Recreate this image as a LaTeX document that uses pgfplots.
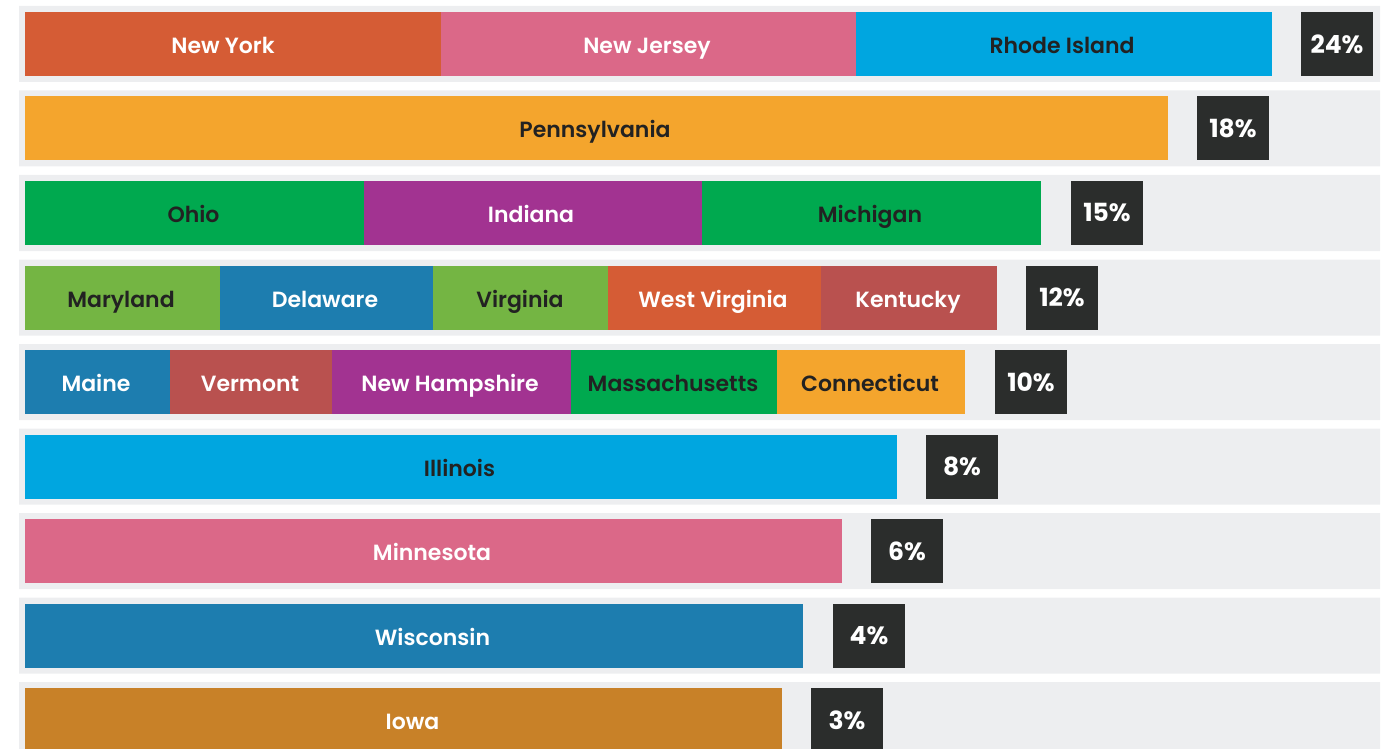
\documentclass[border=0pt]{standalone}
\usepackage{pgfplots}
\pgfplotsset{compat=1.18}
\usepackage{fontspec}
\setmainfont{Poppins}
\newfontfamily\semi{Poppins SemiBold}
\newfontfamily\boldf{Poppins Bold}
\definecolor{band}{HTML}{EDEEF0}
\definecolor{box}{HTML}{2B2D2C}
\definecolor{dtext}{HTML}{222222}
\definecolor{cOrange}{HTML}{D55C35}
\definecolor{cPink}{HTML}{DB6888}
\definecolor{cCyan}{HTML}{00A6E0}
\definecolor{cGold}{HTML}{F4A52D}
\definecolor{cGreen}{HTML}{00A94F}
\definecolor{cPurple}{HTML}{A23391}
\definecolor{cLime}{HTML}{74B543}
\definecolor{cBlue}{HTML}{1D7DAF}
\definecolor{cBrick}{HTML}{B9514F}
\definecolor{cOchre}{HTML}{C88128}
\pgfplotsset{
  seg/.style={xbar, bar shift=0pt, bar width=0.7574, draw=none},
  bandbar/.style={xbar, bar shift=0pt, bar width=0.8994, draw=none, fill=band},
}
\begin{document}
\begin{tikzpicture}
\begin{axis}[
  scale only axis, width=696pt, height=374.5pt,
  xmin=-25, xmax=1367, ymin=0.4793, ymax=9.3432, y dir=reverse,
  axis line style={draw=none}, xtick=\empty, ytick=\empty,
  clip=true,
]
% grey bands
\addplot[bandbar] coordinates {(1355,1) (1355,2) (1355,3) (1355,4) (1355,5) (1355,6) (1355,7) (1355,8) (1355,9)};
\addplot[bandbar] coordinates {(-6,1) (-6,2) (-6,3) (-6,4) (-6,5) (-6,6) (-6,7) (-6,8) (-6,9)};
% row 1
\addplot[seg, fill=cCyan] coordinates {(1247,1)};
\addplot[seg, fill=cPink] coordinates {(831,1)};
\addplot[seg, fill=cOrange] coordinates {(416,1)};
% row 2
\addplot[seg, fill=cGold] coordinates {(1143,2)};
% row 3
\addplot[seg, fill=cGreen] coordinates {(1016,3)};
\addplot[seg, fill=cPurple] coordinates {(677,3)};
\addplot[seg, fill=cGreen] coordinates {(339,3)};
% row 4
\addplot[seg, fill=cBrick] coordinates {(972,4)};
\addplot[seg, fill=cOrange] coordinates {(796,4)};
\addplot[seg, fill=cLime] coordinates {(583,4)};
\addplot[seg, fill=cBlue] coordinates {(408,4)};
\addplot[seg, fill=cLime] coordinates {(195,4)};
% row 5
\addplot[seg, fill=cGold] coordinates {(940,5)};
\addplot[seg, fill=cGreen] coordinates {(752,5)};
\addplot[seg, fill=cPurple] coordinates {(546,5)};
\addplot[seg, fill=cBrick] coordinates {(307,5)};
\addplot[seg, fill=cBlue] coordinates {(145,5)};
% rows 6-9
\addplot[seg, fill=cCyan] coordinates {(872,6)};
\addplot[seg, fill=cPink] coordinates {(817,7)};
\addplot[seg, fill=cBlue] coordinates {(778,8)};
\addplot[seg, fill=cOchre] coordinates {(757,9)};
% white state labels
\addplot[only marks, mark=none, nodes near coords, point meta=explicit symbolic,
  every node near coord/.append style={anchor=base, yshift=-4.75pt, inner sep=0pt, text=white, font=\semi\fontsize{11}{13}\selectfont}]
  coordinates {(198,1) [New York] (622,1) [New Jersey] (506,3) [Indiana]
   (300,4) [Delaware] (688,4) [West Virginia] (883,4) [Kentucky]
   (71,5) [Maine] (225,5) [Vermont] (425,5) [New Hampshire]
   (407,7) [Minnesota] (407.5,8) [Wisconsin] (387.5,9) [Iowa]};
% dark state labels
\addplot[only marks, mark=none, nodes near coords, point meta=explicit symbolic,
  every node near coord/.append style={anchor=base, yshift=-4.75pt, inner sep=0pt, text=dtext, font=\semi\fontsize{11}{13}\selectfont}]
  coordinates {(1037,1) [Rhode Island] (570,2) [Pennsylvania] (168.5,3) [Ohio] (845,3) [Michigan]
   (96,4) [Maryland] (495,4) [Virginia] (648,5) [Massachusetts] (845,5) [Connecticut]
   (434.5,6) [Illinois]};
% percentage boxes with labels (centred on each box)
\addplot[only marks, mark=none, nodes near coords, point meta=explicit symbolic,
  every node near coord/.append style={anchor=center, inner sep=0pt, fill=box,
    minimum width=36pt, minimum height=32pt, text=white, font=\boldf\fontsize{12.5}{15}\selectfont}]
  coordinates {(1312,1) [24\%] (1208,2) [18\%] (1082,3) [15\%] (1037,4) [12\%] (1006,5) [10\%]
   (937,6) [8\%] (882,7) [6\%] (844,8) [4\%] (822,9) [3\%]};
\end{axis}
\pgfresetboundingbox
\path[use as bounding box] (current axis.south west) rectangle (current axis.north east);
\end{tikzpicture}
\end{document}
